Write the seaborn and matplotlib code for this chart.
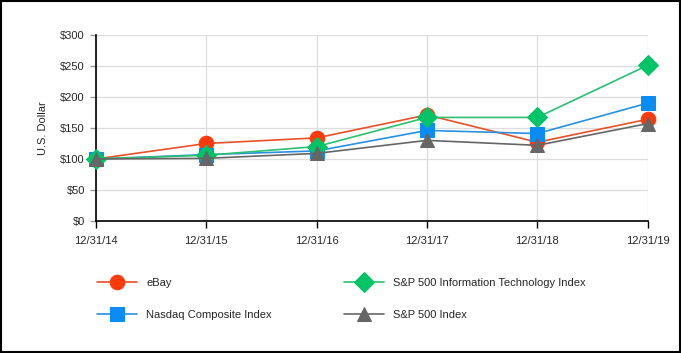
import matplotlib
matplotlib.use('Agg')
import matplotlib.pyplot as plt
import numpy             as np
import pandas            as pd
import seaborn           as sns
from matplotlib.patches import Rectangle

# Du lieu doc tu bieu do
dates   = ['12/31/14', '12/31/15', '12/31/16', '12/31/17', '12/31/18', '12/31/19']
ebay    = [100, 125, 134, 171, 127, 164]
nasdaq  = [100, 107, 113, 146, 141, 190]
sp_it   = [100, 106, 120, 167, 167, 251]
sp500   = [100, 101, 109, 130, 122, 157]

names   = ['eBay', 'Nasdaq Composite Index',
           'S&P 500 Information Technology Index', 'S&P 500 Index']
series  = [ebay, nasdaq, sp_it, sp500]
colors  = ['#FF3A0A', '#0A8CF5', '#00C466', '#666666']
lines   = ['#E8502A', '#2A90E0', '#2CC070', '#666666']
markers = ['o', 's', 'D', '^']
msizes  = [10.5, 9.5, 10.5, 9.5]

rows = []
for name, vals in zip(names, series):
    for i, v in enumerate(vals):
        rows.append({'x': i, 'value': v, 'series': name})
df = pd.DataFrame(rows)

sns.set_style('white')
plt.rcParams['font.family'] = ['Liberation Sans', 'DejaVu Sans']

fig = plt.figure(figsize=(6.81, 3.53), dpi=100)
ax  = fig.add_axes([0.141, 0.374, 0.81, 0.527])

for name, c, lc, m, ms in zip(names, colors, lines, markers, msizes):
    sub = df[df.series == name]
    sns.lineplot(data=sub, x='x', y='value', ax=ax, color=lc, lw=1.2,
                 marker=m, markersize=ms, markerfacecolor=c,
                 markeredgecolor=c, clip_on=False, zorder=3, label=name)

ax.set_xlim(0, 5)
ax.set_ylim(0, 300)
ax.set_xticks(range(len(dates)))
ax.set_xticklabels(dates, fontsize=8)
ax.set_yticks(np.arange(0, 301, 50))
ax.set_yticklabels(['$%d' % v for v in range(0, 301, 50)], fontsize=8)
ax.set_xlabel('')
ax.set_ylabel('U.S. Dollar', fontsize=8, labelpad=9)

ax.grid(True, color='#dddddd', lw=0.9)
ax.set_axisbelow(True)
for s in ['top', 'right']:
    ax.spines[s].set_visible(False)
for s in ['left', 'bottom']:
    ax.spines[s].set_color('black')
    ax.spines[s].set_linewidth(1.2)
ax.tick_params(axis='x', length=5, width=1, color='black', pad=6, direction='out', bottom=True)
ax.tick_params(axis='y', length=4, width=1, color='#999999', pad=4, left=True)

h, l = ax.get_legend_handles_labels()
ax.get_legend().remove()
fig.legend(h, l, ncol=2, loc='upper left', bbox_to_anchor=(0.128, 0.24),
           frameon=False, fontsize=8, handlelength=3.6, columnspacing=6.5,
           labelspacing=1.95, handletextpad=0.8)

fig.patches.append(Rectangle((0.002, 0.003), 0.996, 0.994, transform=fig.transFigure,
                             fill=False, edgecolor='black', lw=1.5))

fig.savefig('out.png', dpi=100)
